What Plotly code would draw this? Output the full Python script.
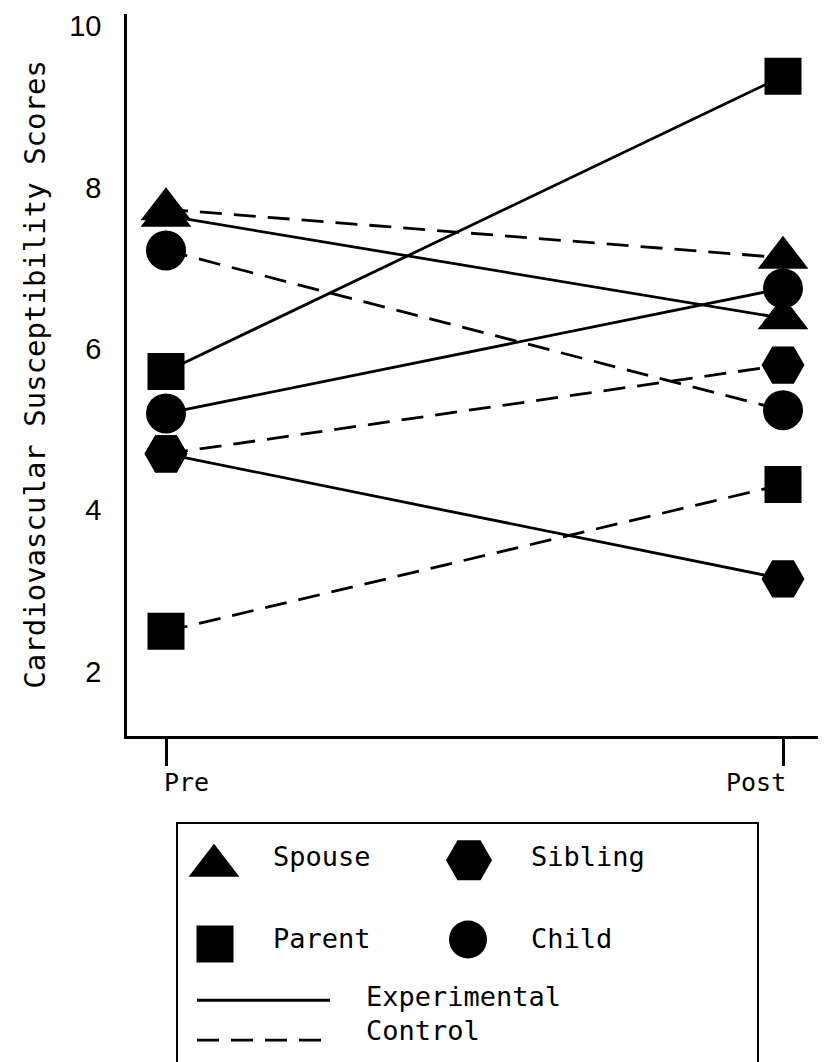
import plotly.graph_objects as go

# ---- data ----
groups = ["Spouse", "Parent", "Child", "Sibling"]
symbols = ["triangle-up", "square", "circle", "hexagon2"]
marker_sizes = [44, 37, 40, 43]
times = ["Pre", "Post"]
exp_pre = [7.65, 5.72, 5.2, 4.7]
exp_post = [6.38, 9.38, 6.75, 3.15]
ctrl_pre = [7.73, 2.5, 7.22, 4.7]
ctrl_post = [7.13, 4.32, 5.24, 5.8]
y_ticks = [2, 4, 6, 8, 10]

MONO = "DejaVu Sans Mono"
W, H = 826, 1062
OFF = 8  # page body margin
LINE_W = 2.8
DASH = "22px,12px"


def px_x(sx):  # screen px -> paper x
    return (sx - OFF) / W


def px_y(sy):  # screen px -> paper y
    return 1 - (sy - OFF) / H


fig = go.Figure()
xpos = [0, 1]

# lines first (so markers sit on top)
for i, g in enumerate(groups):
    fig.add_trace(go.Scatter(x=xpos, y=[exp_pre[i], exp_post[i]], mode="lines",
                             line=dict(color="black", width=LINE_W), showlegend=False,
                             hoverinfo="skip"))
    fig.add_trace(go.Scatter(x=xpos, y=[ctrl_pre[i], ctrl_post[i]], mode="lines",
                             line=dict(color="black", width=LINE_W, dash=DASH),
                             showlegend=False, hoverinfo="skip"))
# markers
for i, g in enumerate(groups):
    for ys in ([ctrl_pre[i], ctrl_post[i]], [exp_pre[i], exp_post[i]]):
        fig.add_trace(go.Scatter(x=xpos, y=ys, mode="markers", name=g,
                                 marker=dict(symbol=symbols[i], size=marker_sizes[i],
                                             color="black", line=dict(width=0)),
                                 showlegend=False))

# ---- custom legend (drawn on an overlay axis mapped to screen pixels) ----
leg_marker_x = [214, 215, 468, 469]
leg_marker_y = [865, 943.5, 939, 859.5]
leg_marker_sizes = [44, 37, 38, 46]
leg_text_x = [271, 271, 529, 529]
leg_text_y = [856, 938, 938, 856]
for i, g in enumerate(groups):
    fig.add_trace(go.Scatter(x=[leg_marker_x[i]], y=[leg_marker_y[i]], mode="markers",
                             xaxis="x2", yaxis="y2", showlegend=False, hoverinfo="skip",
                             marker=dict(symbol=symbols[i], size=leg_marker_sizes[i],
                                         color="black", line=dict(width=0))))
    fig.add_annotation(x=leg_text_x[i], y=leg_text_y[i], xref="x2", yref="y2",
                       text=g, showarrow=False, xanchor="left", yanchor="middle",
                       font=dict(family=MONO, size=27, color="black"))

fig.add_trace(go.Scatter(x=[197, 330], y=[1000, 1000], mode="lines", xaxis="x2", yaxis="y2",
                         line=dict(color="black", width=LINE_W), showlegend=False,
                         hoverinfo="skip"))
fig.add_trace(go.Scatter(x=[197, 325], y=[1040, 1040], mode="lines", xaxis="x2", yaxis="y2",
                         line=dict(color="black", width=LINE_W, dash=DASH), showlegend=False,
                         hoverinfo="skip"))
fig.add_annotation(x=364, y=996, xref="x2", yref="y2", text="Experimental", showarrow=False,
                   xanchor="left", yanchor="middle", font=dict(family=MONO, size=27, color="black"))
fig.add_annotation(x=364, y=1030, xref="x2", yref="y2", text="Control", showarrow=False,
                   xanchor="left", yanchor="middle", font=dict(family=MONO, size=27, color="black"))
fig.add_shape(type="rect", xref="x2", yref="y2", x0=177, x1=758, y0=822, y1=1100,
              line=dict(color="black", width=2), fillcolor="rgba(0,0,0,0)")

# ---- x labels ----
fig.add_annotation(x=0, y=px_y(781), xref="x", yref="paper", text="Pre", showarrow=False,
                   xanchor="left", yanchor="middle", xshift=-4,
                   font=dict(family=MONO, size=25, color="black"))
fig.add_annotation(x=1, y=px_y(781), xref="x", yref="paper", text="Post", showarrow=False,
                   xanchor="right", yanchor="middle", xshift=5,
                   font=dict(family=MONO, size=25, color="black"))

# y title
fig.add_annotation(x=px_x(35), y=px_y(372), xref="paper", yref="paper",
                   text="Cardiovascular Susceptibility Scores", showarrow=False,
                   textangle=-90, xanchor="center", yanchor="middle",
                   font=dict(family=MONO, size=29, color="black"))

# axes geometry (screen px): y-axis at x=127, x-axis at y=735, Pre x=166, Post x=783
ax_left, pre_x, post_x = 127 - OFF, 166 - OFF, 783 - OFF
unit = post_x - pre_x
x_range = [-(pre_x - ax_left) / unit, 1 + (W - post_x) / unit]

fig.update_layout(
    width=W, height=H,
    margin=dict(l=0, r=0, t=0, b=0),
    paper_bgcolor="white", plot_bgcolor="rgba(0,0,0,0)",
    showlegend=False,
    xaxis=dict(domain=[ax_left / W, 1], range=x_range, tickvals=xpos,
               showticklabels=False, ticks="outside", ticklen=27, tickwidth=2.5,
               tickcolor="black", showline=True, linewidth=2.5, linecolor="black",
               showgrid=False, zeroline=False, anchor="y"),
    yaxis=dict(domain=[px_y(735), px_y(10)], range=[1.2, 10.15], tickvals=y_ticks,
               ticks="outside", ticklen=17, tickcolor="rgba(0,0,0,0)",
               ticklabeloverflow="allow",
               tickfont=dict(family="Liberation Sans", size=29, color="black"),
               showline=True, linewidth=2.5, linecolor="black",
               showgrid=False, zeroline=False, anchor="x"),
    xaxis2=dict(domain=[0, 1], range=[OFF, W + OFF], visible=False, anchor="y2"),
    yaxis2=dict(domain=[0, 1], range=[H + OFF, OFF], visible=False, anchor="x2"),
)

fig.write_html("out.html")
